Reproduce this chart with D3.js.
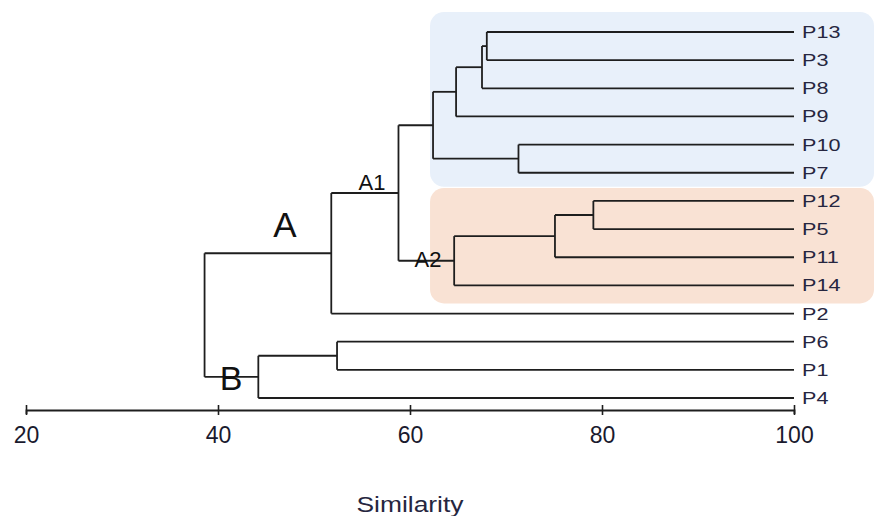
<!DOCTYPE html>
<html>
<head>
<meta charset="utf-8">
<script src="https://cdn.jsdelivr.net/npm/d3@7"></script>
<style>
  body { margin: 0; background: #fff; }
  svg { display: block; }
</style>
</head>
<body>
<svg id="chart" width="876" height="516"></svg>
<script>
// leaves, top to bottom
var leaves = ["P13", "P3", "P8", "P9", "P10", "P7", "P12", "P5", "P11", "P14", "P2", "P6", "P1", "P4"];

// merges: [node id, child 1, child 2, similarity]
var merges = [
  ["n1", "P13", "P3", 68.0],
  ["n2", "n1", "P8", 67.5],
  ["n3", "n2", "P9", 64.8],
  ["n4", "P10", "P7", 71.3],
  ["n5", "n3", "n4", 62.4],
  ["n6", "P12", "P5", 79.1],
  ["n7", "n6", "P11", 75.1],
  ["A2", "n7", "P14", 64.6],
  ["A1", "n5", "A2", 58.8],
  ["A", "A1", "P2", 51.8],
  ["n8", "P6", "P1", 52.4],
  ["B", "n8", "P4", 44.2],
  ["root", "A", "B", 38.6]
];

var leafSimilarity = 100;
var axisTicks = [20, 40, 60, 80, 100];
var axisTitle = "Similarity";

// shaded groups: [first leaf, last leaf, fill]
var groups = [
  ["P13", "P7", "#e8f0fa"],
  ["P12", "P14", "#f9e2d4"]
];

// cluster labels: [node id, text, font size]
var clusterLabels = [
  ["A", "A", 35],
  ["A1", "A1", 22],
  ["A2", "A2", 22],
  ["B", "B", 34]
];

var svg = d3.select("#chart");

var x = d3.scaleLinear().domain([20, 100]).range([26, 794]);
var y = d3.scalePoint().domain(leaves).range([32, 398]);

// build node table
var nodes = {};
leaves.forEach(function(l) { nodes[l] = { id: l, sim: leafSimilarity, y: y(l) }; });
merges.forEach(function(m) {
  var a = nodes[m[1]], b = nodes[m[2]];
  nodes[m[0]] = { id: m[0], sim: m[3], y: (a.y + b.y) / 2, children: [a, b] };
});

// shaded boxes behind the tree
var boxLeft = x(62.4) - 3;
svg.append("g")
  .selectAll("rect")
  .data(groups)
  .enter().append("rect")
  .attr("x", boxLeft)
  .attr("y", function(d, i) { return i == 0 ? y(d[0]) - 20 : y(d[0]) - 13; })
  .attr("width", 874 - boxLeft)
  .attr("height", function(d, i) {
    return i == 0 ? (y(d[1]) + 14) - (y(d[0]) - 20) : (y(d[1]) + 18) - (y(d[0]) - 13);
  })
  .attr("rx", 14)
  .attr("fill", function(d) { return d[2]; });

// elbow links
var links = svg.append("g")
  .attr("fill", "none")
  .attr("stroke", "#1e1e1e")
  .attr("stroke-width", 1.8);

merges.forEach(function(m) {
  var n = nodes[m[0]];
  var px = x(n.sim);
  links.append("line")
    .attr("x1", px).attr("x2", px)
    .attr("y1", n.children[0].y).attr("y2", n.children[1].y);
  n.children.forEach(function(c) {
    links.append("line")
      .attr("x1", px).attr("x2", x(c.sim))
      .attr("y1", c.y).attr("y2", c.y);
  });
});

// leaf labels
svg.append("g")
  .selectAll("text")
  .data(leaves)
  .enter().append("text")
  .attr("transform", function(d) { return "translate(" + (x(leafSimilarity) + 8) + "," + (y(d) + 6) + ") scale(1.35,1)"; })
  .attr("font-family", "Liberation Sans, Arial, sans-serif")
  .attr("font-size", "16px")
  .attr("fill", "#262640")
  .text(function(d) { return d; });

// cluster labels
var labelPos = {
  "A": [285, 237],
  "A1": [372, 190],
  "A2": [428, 267],
  "B": [231, 390]
};
svg.append("g")
  .selectAll("text")
  .data(clusterLabels)
  .enter().append("text")
  .attr("x", function(d) { return labelPos[d[0]][0]; })
  .attr("y", function(d) { return labelPos[d[0]][1]; })
  .attr("text-anchor", "middle")
  .attr("font-family", "Liberation Sans, Arial, sans-serif")
  .attr("font-size", function(d) { return d[2] + "px"; })
  .attr("fill", "#111")
  .text(function(d) { return d[1]; });

// axis
var axisY = 410;
var axis = svg.append("g")
  .attr("transform", "translate(0," + axisY + ")")
  .call(d3.axisBottom(x).tickValues(axisTicks).tickSizeOuter(0).tickSize(4).tickPadding(0));

axis.select(".domain").attr("stroke", "#1e1e1e").attr("stroke-width", 1.8);
axis.selectAll(".tick line").attr("y1", -5).attr("y2", 5).attr("stroke", "#1e1e1e").attr("stroke-width", 1.6);
axis.selectAll(".tick text")
  .attr("y", 33)
  .attr("dy", 0)
  .attr("font-family", "Liberation Sans, Arial, sans-serif")
  .attr("font-size", "23px")
  .attr("fill", "#1a1a2e");

svg.append("text")
  .attr("transform", "translate(" + x(60) + ",512) scale(1.2,1)")
  .attr("text-anchor", "middle")
  .attr("font-family", "Liberation Sans, Arial, sans-serif")
  .attr("font-size", "22px")
  .attr("fill", "#262640")
  .text(axisTitle);
</script>
</body>
</html>
